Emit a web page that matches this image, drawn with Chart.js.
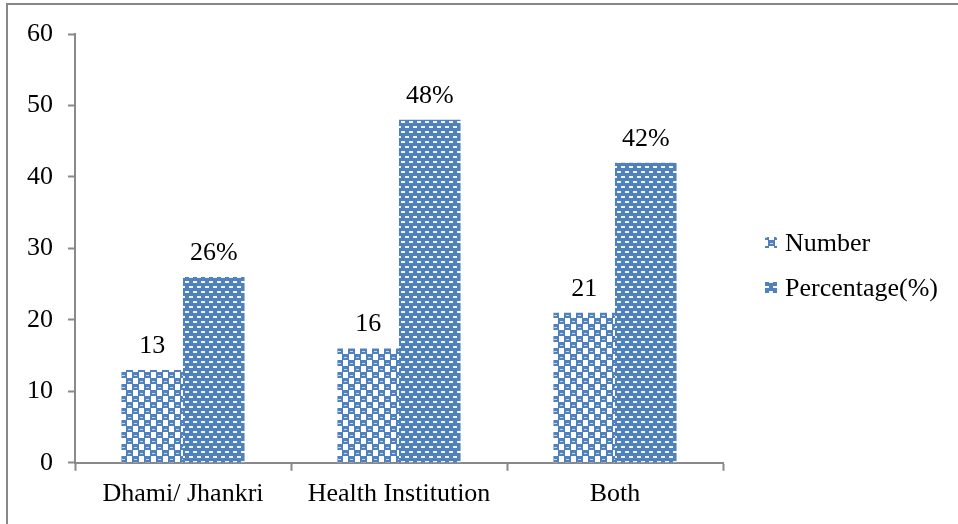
<!DOCTYPE html>
<html>
<head>
<meta charset="utf-8">
<script src="https://cdn.jsdelivr.net/npm/chart.js@4/dist/chart.umd.min.js"></script>
<style>
  html, body { margin: 0; padding: 0; background: #fff; }
  #wrap { position: relative; width: 958px; height: 524px; overflow: hidden; }
  #frame { position: absolute; left: 6px; top: 3px; width: 1000px; height: 600px;
           border-left: 2px solid #878787; border-top: 2px solid #878787; pointer-events: none; }
  canvas { position: absolute; left: 0; top: 0; }
</style>
</head>
<body>
<div id="wrap">
  <canvas id="c" width="958" height="524"></canvas>
  <div id="frame"></div>
</div>
<script>
const categories = ["Dhami/ Jhankri", "Health Institution", "Both"];
const numberValues = [13, 16, 21];
const percentageValues = [26, 48, 42];
const numberLabels = ["13", "16", "21"];
const percentageLabels = ["26%", "48%", "42%"];
const seriesNames = ["Number", "Percentage(%)"];
const yTicks = [0, 10, 20, 30, 40, 50, 60];

const BLUE = "#4f81bd";
const FONT = "'Liberation Serif', 'Times New Roman', serif";

function makeNumberPattern() {
  const t = document.createElement("canvas");
  t.width = 12; t.height = 12;
  const g = t.getContext("2d");
  g.fillStyle = "#ffffff"; g.fillRect(0, 0, 12, 12);
  g.fillStyle = BLUE;
  g.fillRect(0, 0, 7, 6);
  g.fillRect(6, 6, 6, 6);
  g.fillRect(0, 6, 1, 6);
  g.fillStyle = "rgba(255,255,255,0.7)";
  g.fillRect(2, 3, 3, 1);
  g.fillRect(8, 9, 3, 1);
  return g.createPattern(t, "repeat");
}
function makePercentPattern() {
  const t = document.createElement("canvas");
  t.width = 8; t.height = 10;
  const g = t.getContext("2d");
  g.fillStyle = BLUE; g.fillRect(0, 0, 8, 10);
  g.fillStyle = "rgba(255,255,255,0.92)";
  g.fillRect(1, 1, 4, 2);
  g.fillRect(5, 6, 3, 2);
  g.fillRect(0, 6, 1, 2);
  return g.createPattern(t, "repeat");
}
const patNumber = makeNumberPattern();
const patPercent = makePercentPattern();

const valueLabelPlugin = {
  id: "valueLabels",
  afterDatasetsDraw(chart) {
    const ctx = chart.ctx;
    const texts = [numberLabels, percentageLabels];
    ctx.save();
    ctx.font = "26px " + FONT;
    ctx.fillStyle = "#000";
    ctx.textAlign = "center";
    ctx.textBaseline = "alphabetic";
    chart.data.datasets.forEach((ds, di) => {
      chart.getDatasetMeta(di).data.forEach((bar, i) => {
        ctx.fillText(texts[di][i], bar.x, bar.y - 17);
      });
    });
    ctx.restore();
  }
};

const legendPlugin = {
  id: "sideLegend",
  afterDraw(chart) {
    const ctx = chart.ctx;
    const x0 = chart.chartArea.right + 42;
    ctx.save();
    ctx.font = "26px " + FONT;
    ctx.textAlign = "left";
    ctx.textBaseline = "alphabetic";
    chart.data.datasets.forEach((ds, di) => {
      const base = 251 + di * 45;
      ctx.fillStyle = ds.backgroundColor;
      ctx.fillRect(x0, base - 14, 12, 11);
      ctx.fillStyle = "#000";
      ctx.fillText(ds.label, x0 + 20, base);
    });
    ctx.restore();
  }
};

new Chart(document.getElementById("c"), {
  type: "bar",
  data: {
    labels: categories,
    datasets: [
      { label: seriesNames[0], data: numberValues, backgroundColor: patNumber, borderWidth: 0 },
      { label: seriesNames[1], data: percentageValues, backgroundColor: patPercent, borderWidth: 0 }
    ]
  },
  options: {
    responsive: false,
    animation: false,
    devicePixelRatio: 1,
    layout: { padding: { left: 12, right: 235, top: 34, bottom: 6 } },
    plugins: { legend: { display: false }, tooltip: { enabled: false } },
    datasets: { bar: { categoryPercentage: 0.57, barPercentage: 1.0 } },
    scales: {
      x: {
        grid: { display: true, drawOnChartArea: false, drawTicks: true, tickLength: 8, tickWidth: 2, tickColor: "#898989", offset: true },
        border: { display: true, color: "#898989", width: 2 },
        ticks: { font: { family: FONT, size: 26 }, color: "#000", padding: 8, maxRotation: 0, autoSkip: false }
      },
      y: {
        min: 0, max: 60,
        afterBuildTicks(scale) { scale.ticks = yTicks.map(v => ({ value: v })); },
        grid: { display: true, drawOnChartArea: false, drawTicks: true, tickLength: 7, tickWidth: 2, tickColor: "#898989" },
        border: { display: true, color: "#898989", width: 2 },
        ticks: { font: { family: FONT, size: 26 }, color: "#000", padding: 15 }
      }
    }
  },
  plugins: [valueLabelPlugin, legendPlugin]
});
</script>
</body>
</html>
